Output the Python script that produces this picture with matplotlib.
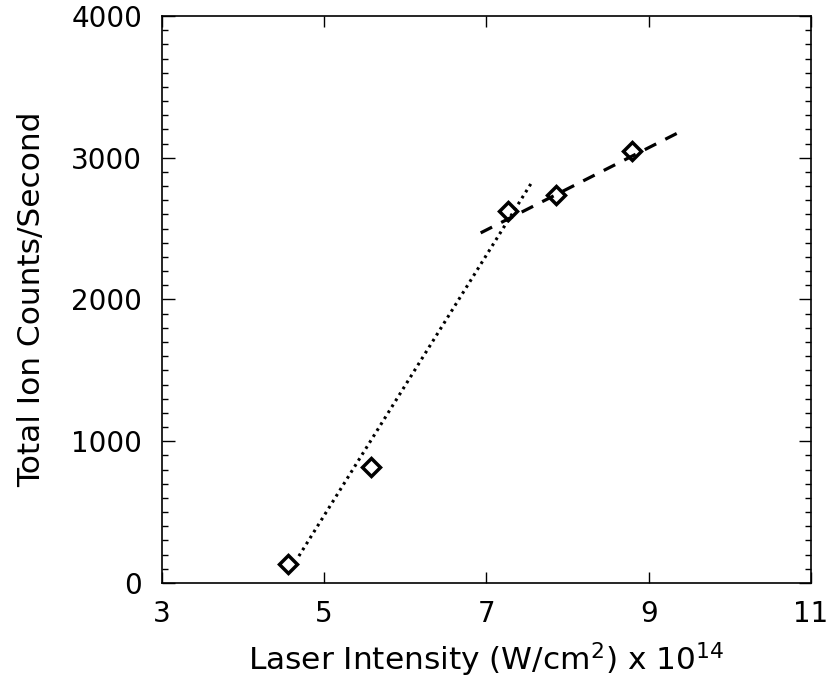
import matplotlib
matplotlib.use("Agg")
import matplotlib.pyplot as plt
from matplotlib.ticker import MultipleLocator

# Data
intensity = [4.56, 5.58, 7.27, 7.86, 8.79]
ion_counts = [134, 816, 2624, 2737, 3045]

# Fitted lines (endpoints as drawn)
fit_low_x = [4.69, 7.57]
fit_low_y = [190, 2836]
fit_high_x = [6.93, 9.41]
fit_high_y = [2470, 3190]

xticks = [3, 5, 7, 9, 11]
yticks = [0, 1000, 2000, 3000, 4000]

plt.rcParams['font.family'] = ['DejaVu Sans']

fig = plt.figure(figsize=(8.3, 6.83), dpi=100)
ax = fig.add_axes([161.7 / 830, 1 - 583 / 683, (811 - 161.7) / 830, (583 - 16) / 683])

ax.plot(fit_low_x, fit_low_y, color='black', lw=2.2, linestyle=(0, (0.9, 1.4)),
        dash_capstyle='butt')
ax.plot(fit_high_x, fit_high_y, color='black', lw=2.3, linestyle=(0, (4.0, 3.2)),
        dash_capstyle='butt')
ax.plot(intensity, ion_counts, linestyle='none', marker='D', ms=9, mew=2.5,
        mec='black', mfc='none')

ax.set_xlim(3, 11)
ax.set_ylim(0, 4000)
ax.set_xticks(xticks)
ax.set_yticks(yticks)
ax.yaxis.set_minor_locator(MultipleLocator(100))
ax.tick_params(axis='both', which='both', direction='in', top=True, right=True,
               labelsize=20, color='black')
ax.tick_params(axis='x', which='major', length=8, width=1, pad=12)
ax.tick_params(axis='y', which='major', length=9, width=1, pad=14)
ax.tick_params(axis='y', which='minor', length=4.5, width=1)
for s in ax.spines.values():
    s.set_linewidth(1.2)

ax.set_xlabel(r'Laser Intensity (W/cm$^2$) x 10$^{14}$', fontsize=22.5, labelpad=9)
ax.set_ylabel('Total Ion Counts/Second', fontsize=22.5, labelpad=18)

fig.savefig('out.png', dpi=100)
